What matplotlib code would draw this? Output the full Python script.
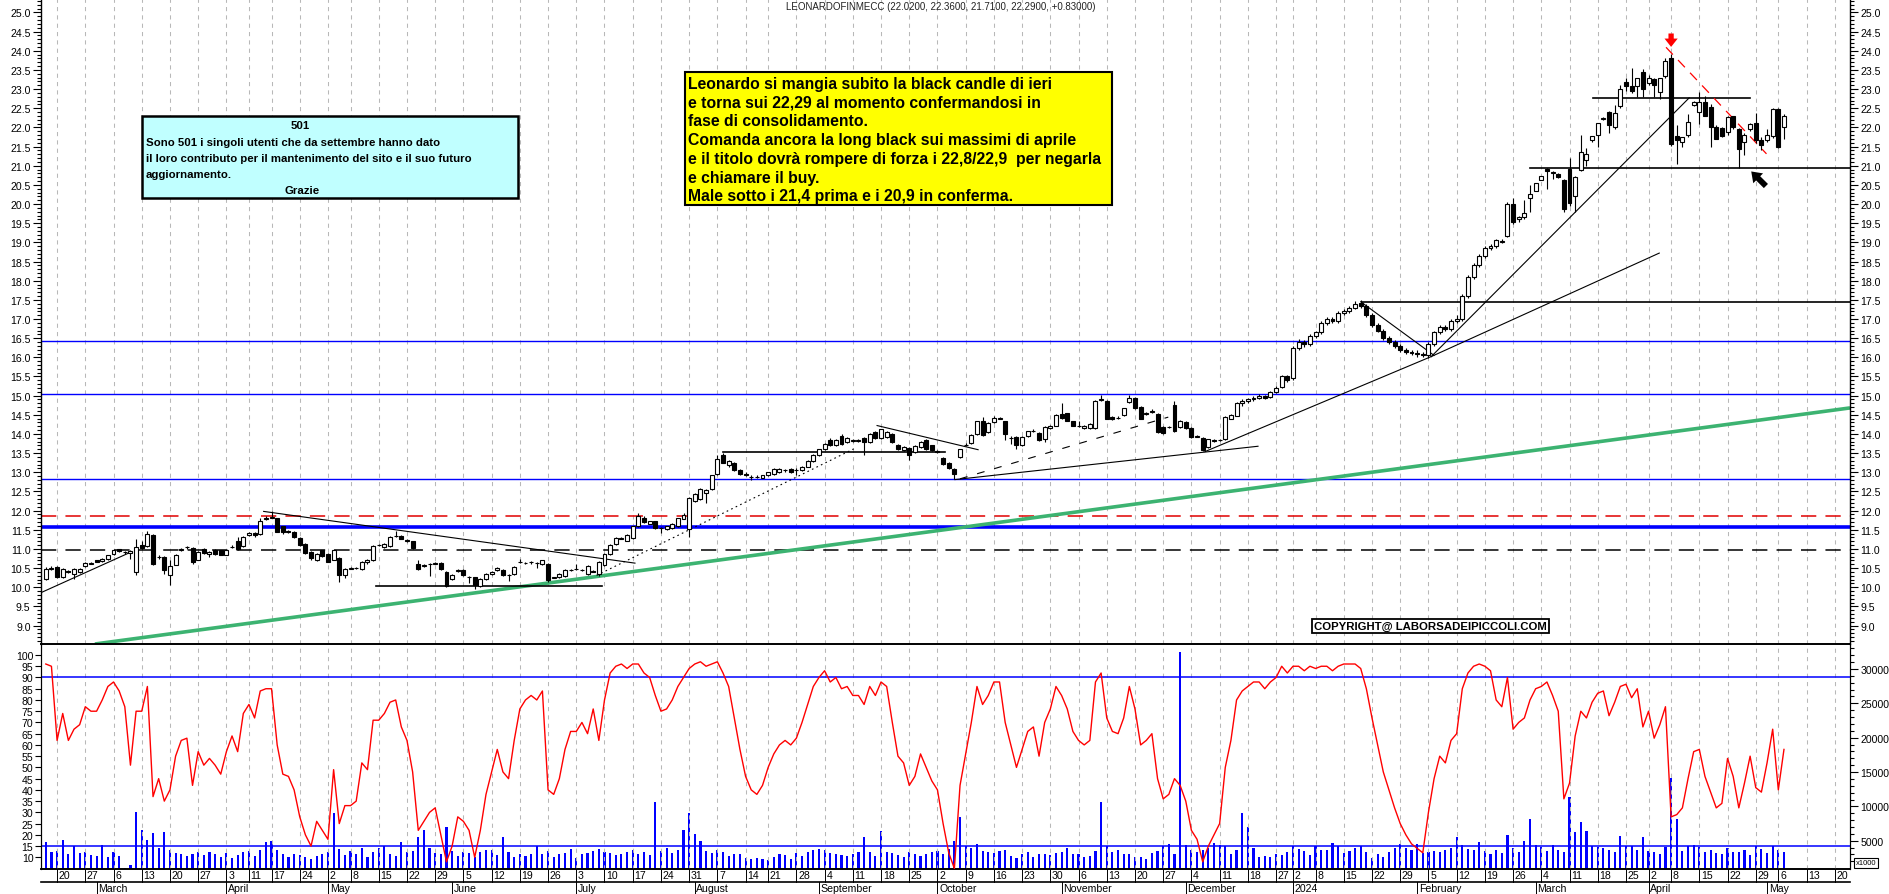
import matplotlib
matplotlib.use("Agg")
import matplotlib.pyplot as plt
from matplotlib.patches import Rectangle
import numpy as np
import pandas as pd

plt.rcParams['font.family'] = ['Liberation Sans', 'DejaVu Sans']

# ---------------- data ----------------
holidays = ['2023-04-07', '2023-04-10', '2023-05-01', '2023-08-15', '2023-12-25',
            '2023-12-26', '2024-01-01', '2024-03-29', '2024-04-01', '2024-05-01']
all_days = pd.bdate_range('2023-02-16', '2024-05-24')
all_days = all_days[~all_days.isin(pd.to_datetime(holidays))]

opens = [
    10.22, 10.49, 10.53, 10.26, 10.42, 10.35, 10.40, 10.55, 10.62,
    10.70, 10.68, 10.74, 10.87, 10.99, 10.93, 10.90, 10.40, 11.10, 11.07, 11.37, 10.78, 10.79, 10.33, 10.59, 10.96, 11.04, 11.02, 10.72, 10.99, 10.87, 10.98, 10.96,
    10.85, 11.05, 11.22, 11.07, 11.36, 11.42, 11.39, 11.79, 11.82, 11.80, 11.59, 11.46, 11.44, 11.29, 11.13, 10.92, 10.70, 10.96,
    10.87, 10.72, 10.76, 10.33, 10.49, 10.50, 10.48, 10.67, 10.70, 11.10, 11.05, 11.07, 11.34, 11.35, 11.23, 11.20, 10.61, 10.56, 10.60, 10.62, 10.63, 10.40,
    10.22, 10.43, 10.46, 10.27, 10.26, 10.03, 10.22, 10.35, 10.44, 10.46, 10.32, 10.35, 10.65, 10.63, 10.65, 10.64, 10.61, 10.61, 10.25, 10.26, 10.29, 10.45,
    10.47, 10.45, 10.35, 10.42, 10.35, 10.57, 10.87, 11.13, 11.27, 11.22, 11.28, 11.59, 11.80, 11.66, 11.72, 11.54, 11.52, 11.54, 11.59, 11.79, 11.52,
    12.25, 12.31, 12.46, 12.57, 12.95, 13.45, 13.20, 13.25, 13.05, 12.96, 12.88, 12.88, 12.86, 12.92, 12.96, 13.00, 13.05, 13.09, 13.05, 13.05, 13.15, 13.30,
    13.45, 13.60, 13.85, 13.70, 13.94, 13.79, 13.82, 13.82, 13.89, 13.79, 14.05, 13.89, 13.92, 14.00, 13.72, 13.57, 13.63, 13.53, 13.66, 13.85, 13.70,
    13.55, 13.38, 13.24, 13.09, 13.40, 13.71, 13.77, 14.00, 14.35, 14.05, 14.31, 14.40, 14.33, 13.90, 13.92, 13.70, 13.94, 14.08, 14.03, 13.87, 14.15, 14.22,
    14.53, 14.54, 14.33, 14.21, 14.15, 14.15, 14.15, 14.89, 14.87, 14.44, 14.42, 14.50, 14.83, 14.94, 14.70, 14.53, 14.58, 14.53, 14.18, 14.17, 14.76, 14.18,
    14.31, 14.15, 13.93, 13.89, 13.66, 13.82, 13.84, 13.87, 14.40, 14.48, 14.80, 14.85, 14.90, 14.95, 15.00, 14.97, 15.10, 15.22, 15.50,
    15.45, 16.25, 16.40, 16.35, 16.55, 16.65, 16.90, 17.00, 16.95, 17.15, 17.20, 17.30, 17.42, 17.35, 17.10, 16.85, 16.70, 16.50, 16.40, 16.30, 16.20, 16.15,
    16.12, 16.10, 16.05, 16.35, 16.65, 16.80, 16.75, 16.95, 17.00, 17.60, 18.10, 18.40, 18.65, 18.85, 18.90, 19.02, 19.16, 20.00, 19.60, 19.66, 20.15,
    20.35, 20.64, 20.92, 20.82, 20.79, 20.64, 20.92, 20.22, 20.90, 21.15, 21.68, 21.80, 22.22, 22.41, 22.00, 22.55, 23.18, 23.09, 23.09, 23.44,
    23.16, 23.26, 22.92, 23.33, 23.80, 21.77, 21.63, 21.80, 22.59, 22.40, 22.65, 22.52, 22.02, 21.98, 21.87, 22.29, 21.96, 21.61, 21.96, 22.12, 21.66,
    21.66, 21.78, 22.48, 22.02]
highs = [
    10.52, 10.56, 10.56, 10.50, 10.46, 10.50, 10.50, 10.66, 10.66,
    10.72, 10.76, 10.85, 11.00, 11.01, 10.95, 10.97, 11.26, 11.20, 11.46, 11.40, 10.85, 10.82, 10.70, 10.87, 11.03, 11.08, 11.05, 10.95, 11.02, 10.95, 11.00, 10.98,
    10.98, 11.10, 11.30, 11.33, 11.44, 11.44, 11.80, 11.85, 11.98, 11.82, 11.61, 11.50, 11.46, 11.31, 11.15, 10.94, 10.89, 10.98,
    10.89, 11.00, 10.78, 10.50, 10.53, 10.53, 10.69, 10.74, 11.11, 11.14, 11.15, 11.33, 11.48, 11.37, 11.26, 11.22, 10.70, 10.60, 10.64, 10.66, 10.65, 10.42,
    10.35, 10.48, 10.48, 10.29, 10.28, 10.24, 10.37, 10.42, 10.52, 10.48, 10.35, 10.55, 10.75, 10.67, 10.69, 10.66, 10.72, 10.63, 10.28, 10.37, 10.48, 10.48,
    10.61, 10.48, 10.57, 10.44, 10.68, 10.89, 11.13, 11.30, 11.31, 11.39, 11.61, 11.95, 11.85, 11.74, 11.74, 11.56, 11.61, 11.68, 11.82, 11.95, 12.35,
    12.46, 12.59, 12.57, 12.94, 13.45, 13.50, 13.33, 13.28, 13.08, 13.00, 12.92, 12.92, 12.94, 13.02, 13.11, 13.10, 13.08, 13.11, 13.10, 13.17, 13.32, 13.47,
    13.62, 13.77, 13.90, 13.87, 14.00, 13.91, 13.86, 13.86, 13.91, 14.02, 14.08, 14.14, 14.07, 14.02, 13.74, 13.68, 13.65, 13.70, 13.81, 13.87, 13.72,
    13.58, 13.40, 13.26, 13.11, 13.62, 13.76, 14.00, 14.35, 14.45, 14.30, 14.48, 14.45, 14.35, 13.94, 13.94, 13.94, 14.09, 14.12, 14.05, 14.20, 14.24, 14.52,
    14.82, 14.56, 14.35, 14.34, 14.24, 14.29, 14.89, 15.02, 14.89, 14.46, 14.46, 14.69, 15.02, 14.96, 14.72, 14.57, 14.64, 14.55, 14.20, 14.21, 14.85, 14.37,
    14.33, 14.17, 13.97, 13.91, 13.88, 13.86, 13.88, 14.46, 14.52, 14.83, 14.90, 14.95, 14.99, 15.05, 15.03, 15.12, 15.25, 15.55, 15.55,
    16.30, 16.48, 16.45, 16.60, 16.70, 16.95, 17.05, 17.05, 17.20, 17.25, 17.35, 17.48, 17.50, 17.38, 17.15, 16.90, 16.75, 16.55, 16.45, 16.35, 16.25, 16.20,
    16.18, 16.15, 16.40, 16.70, 16.85, 16.85, 17.00, 17.10, 17.65, 18.15, 18.45, 18.70, 18.90, 18.95, 19.10, 19.08, 20.05, 20.15, 19.70, 20.10, 20.50,
    20.56, 20.74, 20.94, 20.85, 20.81, 20.66, 21.20, 20.72, 21.80, 21.45, 21.78, 22.12, 22.28, 22.43, 22.58, 23.10, 23.30, 23.55, 23.30, 23.52,
    23.36, 23.30, 23.30, 23.80, 23.92, 22.05, 21.76, 22.35, 22.68, 22.93, 22.82, 22.60, 22.05, 22.00, 22.30, 22.31, 21.98, 21.85, 22.12, 22.37, 21.75,
    21.95, 22.50, 22.50, 22.36]
lows = [
    10.20, 10.45, 10.25, 10.24, 10.38, 10.22, 10.38, 10.53, 10.60,
    10.65, 10.66, 10.72, 10.85, 10.93, 10.88, 10.75, 10.31, 11.00, 11.05, 10.58, 10.75, 10.35, 10.06, 10.57, 10.94, 11.00, 10.60, 10.70, 10.88, 10.80, 10.85, 10.83,
    10.83, 11.02, 10.97, 11.05, 11.34, 11.30, 11.37, 11.76, 11.80, 11.43, 11.40, 11.42, 11.28, 11.09, 10.88, 10.70, 10.68, 10.79,
    10.65, 10.70, 10.15, 10.25, 10.47, 10.47, 10.46, 10.60, 10.68, 11.08, 11.03, 11.05, 11.32, 11.25, 11.17, 11.00, 10.45, 10.53, 10.30, 10.60, 10.46, 10.01,
    10.20, 10.40, 10.29, 10.12, 9.96, 10.01, 10.20, 10.33, 10.42, 10.29, 10.16, 10.33, 10.63, 10.60, 10.62, 10.50, 10.59, 10.14, 10.23, 10.24, 10.27, 10.43,
    10.45, 10.43, 10.33, 10.39, 10.30, 10.55, 10.85, 11.11, 11.25, 11.20, 11.26, 11.57, 11.68, 11.64, 11.52, 11.42, 11.50, 11.52, 11.57, 11.77, 11.31,
    12.23, 12.29, 12.20, 12.55, 12.93, 13.23, 13.15, 13.03, 12.93, 12.90, 12.79, 12.84, 12.84, 12.90, 12.94, 12.98, 13.02, 12.98, 12.92, 13.03, 13.13, 13.28,
    13.43, 13.58, 13.68, 13.68, 13.72, 13.77, 13.80, 13.80, 13.46, 13.77, 13.87, 13.87, 13.90, 13.77, 13.58, 13.55, 13.31, 13.51, 13.64, 13.59, 13.55,
    13.50, 13.20, 13.09, 12.83, 13.38, 13.68, 13.75, 13.98, 13.96, 14.03, 14.29, 14.38, 13.85, 13.75, 13.62, 13.68, 13.92, 14.06, 13.81, 13.80, 14.13, 14.20,
    14.39, 14.33, 14.20, 14.19, 14.13, 14.13, 14.13, 14.87, 14.38, 14.36, 14.40, 14.48, 14.81, 14.65, 14.38, 14.50, 14.55, 14.03, 14.00, 14.15, 14.05, 14.16,
    14.13, 13.90, 13.91, 13.55, 13.64, 13.80, 13.82, 13.85, 14.38, 14.46, 14.72, 14.80, 14.86, 14.92, 14.90, 14.95, 15.08, 15.20, 15.35,
    15.40, 16.20, 16.28, 16.30, 16.50, 16.60, 16.85, 16.90, 16.90, 17.10, 17.15, 17.25, 17.30, 17.05, 16.80, 16.65, 16.45, 16.35, 16.25, 16.15, 16.10, 16.05,
    16.02, 16.00, 15.97, 16.30, 16.60, 16.70, 16.70, 16.90, 16.95, 17.55, 18.05, 18.35, 18.60, 18.80, 18.85, 18.98, 19.14, 19.48, 19.52, 19.62, 19.80,
    20.33, 20.62, 20.40, 20.65, 20.68, 19.78, 19.95, 19.80, 20.85, 21.00, 21.62, 21.50, 22.20, 21.85, 21.95, 22.50, 22.95, 22.90, 22.80, 22.80,
    23.10, 22.80, 22.75, 23.30, 21.52, 21.05, 21.50, 21.75, 22.55, 22.10, 22.30, 21.48, 21.70, 21.75, 21.80, 21.95, 20.93, 21.27, 21.90, 21.60, 21.40,
    21.62, 21.72, 21.46, 21.71]
closes = [
    10.48, 10.50, 10.27, 10.48, 10.41, 10.48, 10.48, 10.64, 10.63,
    10.67, 10.74, 10.83, 10.96, 10.95, 10.92, 10.95, 11.04, 11.02, 11.39, 10.60, 10.79, 10.44, 10.55, 10.85, 11.00, 11.05, 10.67, 10.93, 10.90, 10.93, 10.87, 10.85,
    10.96, 11.06, 10.99, 11.31, 11.42, 11.36, 11.74, 11.80, 11.83, 11.45, 11.45, 11.45, 11.31, 11.11, 10.90, 10.76, 10.87, 10.81,
    10.67, 10.98, 10.33, 10.48, 10.50, 10.50, 10.67, 10.72, 11.09, 11.11, 11.13, 11.31, 11.35, 11.27, 11.22, 11.02, 10.48, 10.57, 10.61, 10.63, 10.48, 10.03,
    10.33, 10.44, 10.31, 10.26, 10.05, 10.22, 10.35, 10.40, 10.50, 10.31, 10.33, 10.53, 10.66, 10.64, 10.66, 10.63, 10.70, 10.18, 10.26, 10.35, 10.46, 10.46,
    10.48, 10.46, 10.55, 10.41, 10.66, 10.87, 11.11, 11.28, 11.28, 11.37, 11.59, 11.85, 11.70, 11.72, 11.54, 11.54, 11.59, 11.66, 11.80, 11.89, 12.33,
    12.44, 12.57, 12.55, 12.92, 13.35, 13.25, 13.30, 13.05, 12.95, 12.92, 12.87, 12.87, 12.92, 13.00, 13.09, 13.08, 13.05, 13.02, 13.05, 13.15, 13.30, 13.45,
    13.60, 13.75, 13.70, 13.85, 13.74, 13.89, 13.83, 13.83, 13.79, 14.00, 13.89, 14.12, 14.05, 13.79, 13.60, 13.66, 13.46, 13.68, 13.79, 13.61, 13.57,
    13.54, 13.22, 13.11, 12.96, 13.60, 13.72, 13.98, 14.33, 13.98, 14.28, 14.41, 14.41, 14.00, 13.89, 13.70, 13.92, 14.07, 14.09, 13.83, 14.18, 14.22, 14.50,
    14.41, 14.35, 14.22, 14.22, 14.22, 14.27, 14.87, 14.90, 14.40, 14.38, 14.43, 14.67, 14.94, 14.67, 14.40, 14.54, 14.59, 14.05, 14.02, 14.18, 14.07, 14.35,
    14.15, 13.92, 13.94, 13.57, 13.86, 13.83, 13.85, 14.44, 14.50, 14.81, 14.85, 14.90, 14.95, 15.00, 14.95, 15.10, 15.20, 15.50, 15.40,
    16.25, 16.40, 16.35, 16.55, 16.65, 16.90, 17.00, 16.95, 17.15, 17.20, 17.30, 17.40, 17.35, 17.10, 16.85, 16.70, 16.50, 16.40, 16.30, 16.20, 16.15, 16.12,
    16.10, 16.05, 16.35, 16.65, 16.80, 16.75, 16.95, 17.00, 17.60, 18.10, 18.40, 18.65, 18.85, 18.90, 19.05, 19.03, 20.00, 19.52, 19.66, 19.76, 20.26,
    20.54, 20.72, 20.87, 20.83, 20.70, 19.87, 20.03, 20.70, 21.37, 21.31, 21.78, 22.12, 22.24, 22.05, 22.38, 23.00, 23.07, 22.96, 23.28, 23.00,
    23.30, 23.11, 23.28, 23.72, 21.57, 21.66, 21.74, 22.13, 22.65, 22.67, 22.31, 22.00, 21.70, 21.77, 22.26, 22.00, 21.44, 21.79, 22.09, 21.66, 21.53,
    21.81, 22.48, 21.48, 22.29]

oscillator = [
    96, 95, 62, 74, 62, 67, 69, 77, 75,
    75, 80, 86, 88, 84, 77, 51, 75, 75, 86, 37, 45, 35, 40, 55, 62, 63, 42, 57, 51, 54, 51, 47,
    57, 64, 57, 74, 78, 72, 84, 85, 85, 60, 47, 46, 40, 28, 20, 15, 26, 22,
    18, 49, 25, 33, 33, 35, 52, 49, 71, 71, 74, 79, 80, 68, 62, 48, 22, 26, 30, 32, 20, 8,
    15, 28, 26, 22, 10, 22, 38, 48, 58, 48, 45, 62, 76, 80, 82, 80, 84, 40, 38, 45, 58, 66,
    66, 70, 65, 76, 62, 80, 92, 95, 96, 94, 96, 96, 92, 90, 82, 75, 76, 80, 86, 90, 94,
    96, 97, 95, 96, 97, 92, 86, 72, 58, 46, 40, 38, 42, 50, 56, 60, 62, 60, 63, 70, 78, 86,
    90, 93, 88, 90, 85, 86, 82, 82, 78, 86, 82, 88, 86, 70, 55, 52, 42, 46, 56, 50, 44,
    40, 25, 12, 5, 42, 56, 70, 86, 78, 82, 88, 88, 70, 60, 50, 58, 66, 68, 55, 70, 76, 86,
    82, 76, 66, 62, 60, 62, 88, 92, 72, 66, 65, 72, 86, 76, 60, 62, 65, 45, 36, 38, 45, 42,
    35, 22, 18, 8, 15, 20, 25, 50, 62, 80, 84, 86, 88, 88, 85, 88, 90, 95, 92,
    95, 95, 93, 95, 94, 95, 95, 93, 95, 96, 96, 96, 94, 85, 72, 60, 48, 40, 32, 25, 20, 16,
    14, 12, 30, 45, 55, 52, 62, 65, 85, 92, 95, 96, 95, 93, 80, 77, 90, 67, 70, 72, 80,
    85, 86, 88, 82, 75, 36, 43, 64, 75, 72, 79, 83, 84, 73, 79, 86, 87, 81, 85, 68,
    75, 63, 69, 77, 28, 29, 32, 45, 57, 58, 46, 39, 32, 34, 54, 46, 32, 43, 55, 41, 39,
    52, 67, 40, 58]

volume = [
    4860, 3310, 3450, 5150, 3070, 4180, 3210, 3310, 2970,
    2730, 4380, 2580, 3310, 2830, 1000, 1520, 9130, 6550, 5150, 6120, 3900, 6300, 3600, 3200, 3000, 2800, 3100, 3300, 2900, 3400, 3000, 2700,
    3200, 2500, 2900, 3300, 3500, 2800, 3600, 4800, 5000, 3700, 3000, 2600, 3000, 2900, 2700, 2400, 2800, 3000,
    3300, 9030, 3800, 2900, 3500, 3000, 3900, 2700, 3300, 4000, 4300, 3000, 2800, 4800, 3300, 3500, 5600, 6500, 4000, 3200, 3000, 7000,
    3500, 2800, 3400, 3200, 2700, 3300, 3700, 3600, 2900, 5500, 3300, 2700, 3000, 2800, 3100, 4200, 3000, 3500, 2600, 3100, 3200, 3800,
    2500, 3000, 3200, 3500, 3800, 3300, 3200, 2900, 3100, 3300, 3600, 3000, 3300, 2900, 10700, 3500, 3900, 3200, 3700, 6500, 9000,
    6000, 5000, 3500, 3200, 3700, 3400, 2800, 3000, 3100, 2500, 2400, 2500, 2300, 2200, 2600, 3000, 2900, 2400, 3200, 2800, 3400, 3600,
    3800, 3600, 3200, 3000, 2900, 2800, 3000, 3300, 5500, 3400, 2800, 6400, 3400, 3200, 2900, 2600, 3300, 3000, 2800, 3100, 3300,
    3500, 3000, 3800, 5000, 8400, 4200, 3900, 4500, 3500, 3300, 3200, 3500, 3600, 2800, 2500, 3100, 3300, 2600, 3000, 3100, 2900, 3200,
    3300, 4000, 3100, 3000, 2600, 2800, 3500, 10700, 4200, 3300, 3600, 3000, 3100, 2700, 2600, 2300, 3200, 3500, 4200, 4500, 3000, 32500,
    4400, 3600, 3300, 3700, 4000, 4600, 4400, 4300, 3100, 3700, 9000, 7000, 3900, 2700, 2800, 2600, 3000, 2900, 3300,
    4300, 3800, 3500, 2900, 4200, 3600, 3700, 4600, 4200, 3200, 3500, 4000, 4300, 3300, 2500, 3000, 2600, 3400, 3900, 4500, 3900, 3700,
    4500, 3200, 3400, 3500, 3300, 3600, 3900, 5500, 4400, 3800, 3600, 4800, 3500, 3000, 3600, 3200, 5870, 4000, 3400, 4900, 8150,
    4400, 4100, 3500, 4400, 3700, 3300, 11300, 6260, 7760, 6360, 4300, 4100, 3900, 3600, 3400, 5680, 4200, 4300, 3700, 5580,
    3500, 3300, 3000, 4100, 14200, 8150, 3500, 4200, 4400, 4100, 3300, 3600, 3200, 3000, 3900, 3300, 3400, 3700, 2900, 4300, 3800,
    3200, 4200, 3700, 3300]

# support / resistance levels
blue_levels = [16.42, 15.04, 12.83]
blue_thick_level = 11.56
red_dashed_level = 11.85
black_dashed_level = 10.98
# trendlines: (day index start, price start, day index end, price end)
solid_lines = [(-0.85, 9.86, 15.1, 10.92), (38.6, 11.98, 104.4, 10.63),
               (147.3, 14.22, 165.2, 13.59), (161.1, 12.81, 214.8, 13.68),
               (205.4, 13.54, 245.5, 16.02), (245.5, 16.02, 285.9, 18.72),
               (245.5, 16.02, 291.2, 22.77), (233.0, 17.45, 246.0, 16.05)]
flat_segments = [(58.5, 98.6, 10.04), (120.0, 159.4, 13.53), (233.3, 319.7, 17.45),
                 (263.0, 319.7, 20.93), (274.2, 302.0, 22.77)]
dotted_line = (97.6, 10.31, 143.7, 13.65)
dashed_line = (162.0, 12.83, 198.9, 14.44)
red_trend = (287.1, 24.09, 304.9, 21.31)
green_line = (8.7, 8.52, 319.7, 14.68)

title = "LEONARDOFINMECC (22.0200, 22.3600, 21.7100, 22.2900, +0.83000)"
box_501 = ["Sono 501 i singoli utenti che da settembre hanno dato",
           "il loro contributo per il mantenimento del sito e il suo futuro",
           "aggiornamento."]
yellow_text = ["Leonardo si mangia subito la black candle di ieri",
               "e torna sui 22,29 al momento confermandosi in",
               "fase di consolidamento.",
               "Comanda ancora la long black sui massimi di aprile",
               "e il titolo dovrà rompere di forza i 22,8/22,9  per negarla",
               "e chiamare il buy.",
               "Male sotto i 21,4 prima e i 20,9 in conferma."]
month_names = {1: '2024', 2: 'February', 3: 'March', 4: 'April', 5: 'May', 6: 'June',
               7: 'July', 8: 'August', 9: 'September', 10: 'October', 11: 'November',
               12: 'December'}

# ---------------- layout ----------------
W, H = 1890, 895
fig = plt.figure(figsize=(W / 100, H / 100), dpi=100)
L, R = 41, 1850
TOP, MID, BOT, ROW = 0, 645, 870, 883


def fx(px):
    return px / W


def fy(py):
    return 1 - py / H


ax = fig.add_axes([fx(L), fy(MID), fx(R) - fx(L), fy(TOP) - fy(MID)])
ax2 = fig.add_axes([fx(L), fy(BOT), fx(R) - fx(L), fy(MID) - fy(BOT)])
axd = fig.add_axes([fx(L), 0, fx(R) - fx(L), fy(BOT)])

n = len(closes)
x = np.arange(n)
opens = np.array(opens); highs = np.array(highs)
lows = np.array(lows); closes = np.array(closes)
xmin, xmax = -0.85, 319.7

days = all_days
week_pos = [i for i in range(1, len(days)) if days[i].isocalendar()[1] != days[i - 1].isocalendar()[1]
            and i <= xmax]
month_pos = [i for i in range(1, len(days)) if days[i].month != days[i - 1].month and i <= xmax]

grid_kw = dict(color='#b8b8b8', lw=0.75, linestyle=(0, (4, 4)), zorder=0)
for a in (ax, ax2):
    for p in week_pos:
        a.axvline(p, **grid_kw)

# ---- price panel ----
ax.axhline(blue_thick_level, color='#0000ff', lw=2.6, zorder=1)
for lv in blue_levels:
    ax.axhline(lv, color='#0000ff', lw=1.0, zorder=1)
ax.axhline(red_dashed_level, color='#e00000', lw=1.1, linestyle=(0, (10, 6)), zorder=1)
ax.axhline(black_dashed_level, color='black', lw=1.1, linestyle=(0, (10, 6)), zorder=1)
ax.plot([green_line[0], green_line[2]], [green_line[1], green_line[3]],
        color='#3cb371', lw=2.6, zorder=1, solid_capstyle='butt')
for (a0, p0, a1, p1) in solid_lines:
    ax.plot([a0, a1], [p0, p1], color='black', lw=0.8, zorder=2)
for (a0, a1, lv) in flat_segments:
    ax.plot([a0, a1], [lv, lv], color='black', lw=1.2, zorder=2)
ax.plot([dotted_line[0], dotted_line[2]], [dotted_line[1], dotted_line[3]],
        color='black', lw=0.8, linestyle=(0, (1.5, 3)), zorder=2)
ax.plot([dashed_line[0], dashed_line[2]], [dashed_line[1], dashed_line[3]],
        color='black', lw=0.8, linestyle=(0, (7, 9)), zorder=2)
ax.plot([red_trend[0], red_trend[2]], [red_trend[1], red_trend[3]],
        color='red', lw=0.9, linestyle=(0, (8, 6)), zorder=2)

# candles
up = closes >= opens
ax.vlines(x, lows, highs, color='black', lw=0.8, zorder=3)
ax.bar(x, np.abs(closes - opens), bottom=np.minimum(opens, closes), width=0.7,
       color=np.where(up, 'white', 'black'), edgecolor='black', linewidth=0.8, zorder=4)

# arrows
ax.annotate('', xy=(288, 24.1), xytext=(288, 24.45),
            arrowprops=dict(arrowstyle='simple,head_width=0.95,head_length=0.6,tail_width=0.38',
                            color='red', lw=0, shrinkA=0, shrinkB=0), zorder=6)
ax.annotate('', xy=(302.2, 20.85), xytext=(304.8, 20.47),
            arrowprops=dict(arrowstyle='simple,head_width=1.0,head_length=0.7,tail_width=0.42',
                            color='black', lw=0, shrinkA=0, shrinkB=0), zorder=6)

ax.set_xlim(xmin, xmax)
ax.set_ylim(8.52, 25.35)
ax.set_yticks(np.arange(9.0, 25.01, 0.5))
ax.set_yticks(np.arange(8.6, 25.35, 0.1), minor=True)
ax.set_yticklabels([f"{v:.1f}" for v in np.arange(9.0, 25.01, 0.5)])
ax.tick_params(axis='y', which='both', left=True, right=True, labelleft=True, labelright=True,
               labelsize=7.6, width=0.8, pad=1.5)
ax.tick_params(axis='y', which='major', length=6)
ax.tick_params(axis='y', which='minor', length=3)
ax.set_xticks([])
ax.spines['top'].set_visible(False)
ax.spines['bottom'].set_linewidth(1.4)
for s in ('left', 'right'):
    ax.spines[s].set_linewidth(1.0)

# ---- lower panel ----
ax2.axhline(90, color='#0000ff', lw=1.1, zorder=2)
ax2.axhline(15, color='#0000ff', lw=1.1, zorder=2)
axv = ax2.twinx()
axv.bar(x, volume, width=0.38, color='#0000ff', zorder=2)
axv.set_ylim(888, 33630)
ax2.plot(x, oscillator, color='#ff0000', lw=1.0, zorder=3)
ax2.set_zorder(axv.get_zorder() + 1)
ax2.patch.set_visible(False)
ax2.set_xlim(xmin, xmax)
axv.set_xlim(xmin, xmax)
ax2.set_ylim(4.8, 104.9)
ax2.set_yticks(np.arange(10, 101, 5))
ax2.tick_params(axis='y', labelsize=7.6, length=4, width=0.8, pad=1.5)
axv.set_yticks(np.arange(5000, 30001, 5000))
axv.set_yticks(np.arange(2000, 33001, 1000), minor=True)
axv.tick_params(axis='y', which='major', labelsize=7.6, length=6, width=0.8, pad=1.5)
axv.tick_params(axis='y', which='minor', length=3, width=0.8)
ax2.set_xticks([])
axv.set_xticks([])
for a in (ax2, axv):
    a.spines['top'].set_visible(False)
    a.spines['bottom'].set_linewidth(1.2)

# ---- date rows ----
axd.set_xlim(xmin, xmax)
axd.set_ylim(0, H - BOT)
axd.axis('off')
row_y = H - ROW
axd.plot([xmin, xmax], [row_y, row_y], color='black', lw=1.2, clip_on=False)
for p in week_pos:
    axd.plot([p, p], [row_y, H - BOT], color='black', lw=0.7)
    axd.text(p + 0.3, (row_y + H - BOT) / 2, str(days[p].day), fontsize=7.6,
             ha='left', va='center')
for p in month_pos:
    axd.plot([p, p], [0, row_y], color='black', lw=0.7)
    label = month_names[days[p].month] if days[p].month != 1 else str(days[p].year)
    axd.text(p + 0.3, row_y / 2, label, fontsize=7.6, ha='left', va='center')

# ---- texts ----
fig.text(fx(786), fy(7), title, fontsize=7.0, ha='left', va='center', color='#222222')

fig.patches.append(Rectangle((fx(142), fy(199)), fx(518) - fx(142), fy(117) - fy(199),
                             transform=fig.transFigure, facecolor='#c0ffff',
                             edgecolor='black', lw=1.8, zorder=5))
fig.text(fx(300), fy(126), "501", fontsize=8.2, fontweight='bold', ha='center', va='center', zorder=6)
for k, line in enumerate(box_501):
    fig.text(fx(146), fy(142.7 + 16 * k), line, fontsize=8.2, fontweight='bold',
             ha='left', va='center', zorder=6)
fig.text(fx(302), fy(191.5), "Grazie", fontsize=8.2, fontweight='bold', ha='center',
         va='center', zorder=6)

fig.patches.append(Rectangle((fx(685), fy(206)), fx(1112) - fx(685), fy(73) - fy(206),
                             transform=fig.transFigure, facecolor='#ffff00',
                             edgecolor='black', lw=1.5, zorder=5))
for k, line in enumerate(yellow_text):
    fig.text(fx(688), fy(84 + 18.8 * k), line, fontsize=11.3, fontweight='bold',
             ha='left', va='center', zorder=6)

fig.text(fx(1547), fy(627), "COPYRIGHT@ LABORSADEIPICCOLI.COM", fontsize=8.2,
         fontweight='bold', ha='right', va='center', zorder=6,
         bbox=dict(facecolor='white', edgecolor='black', lw=1.3, pad=1.5))
fig.text(fx(1866), fy(864), "x1000", fontsize=5.5, ha='center', va='center',
         bbox=dict(facecolor='white', edgecolor='black', lw=0.8, pad=1.2))

fig.savefig('out.png', dpi=100)
